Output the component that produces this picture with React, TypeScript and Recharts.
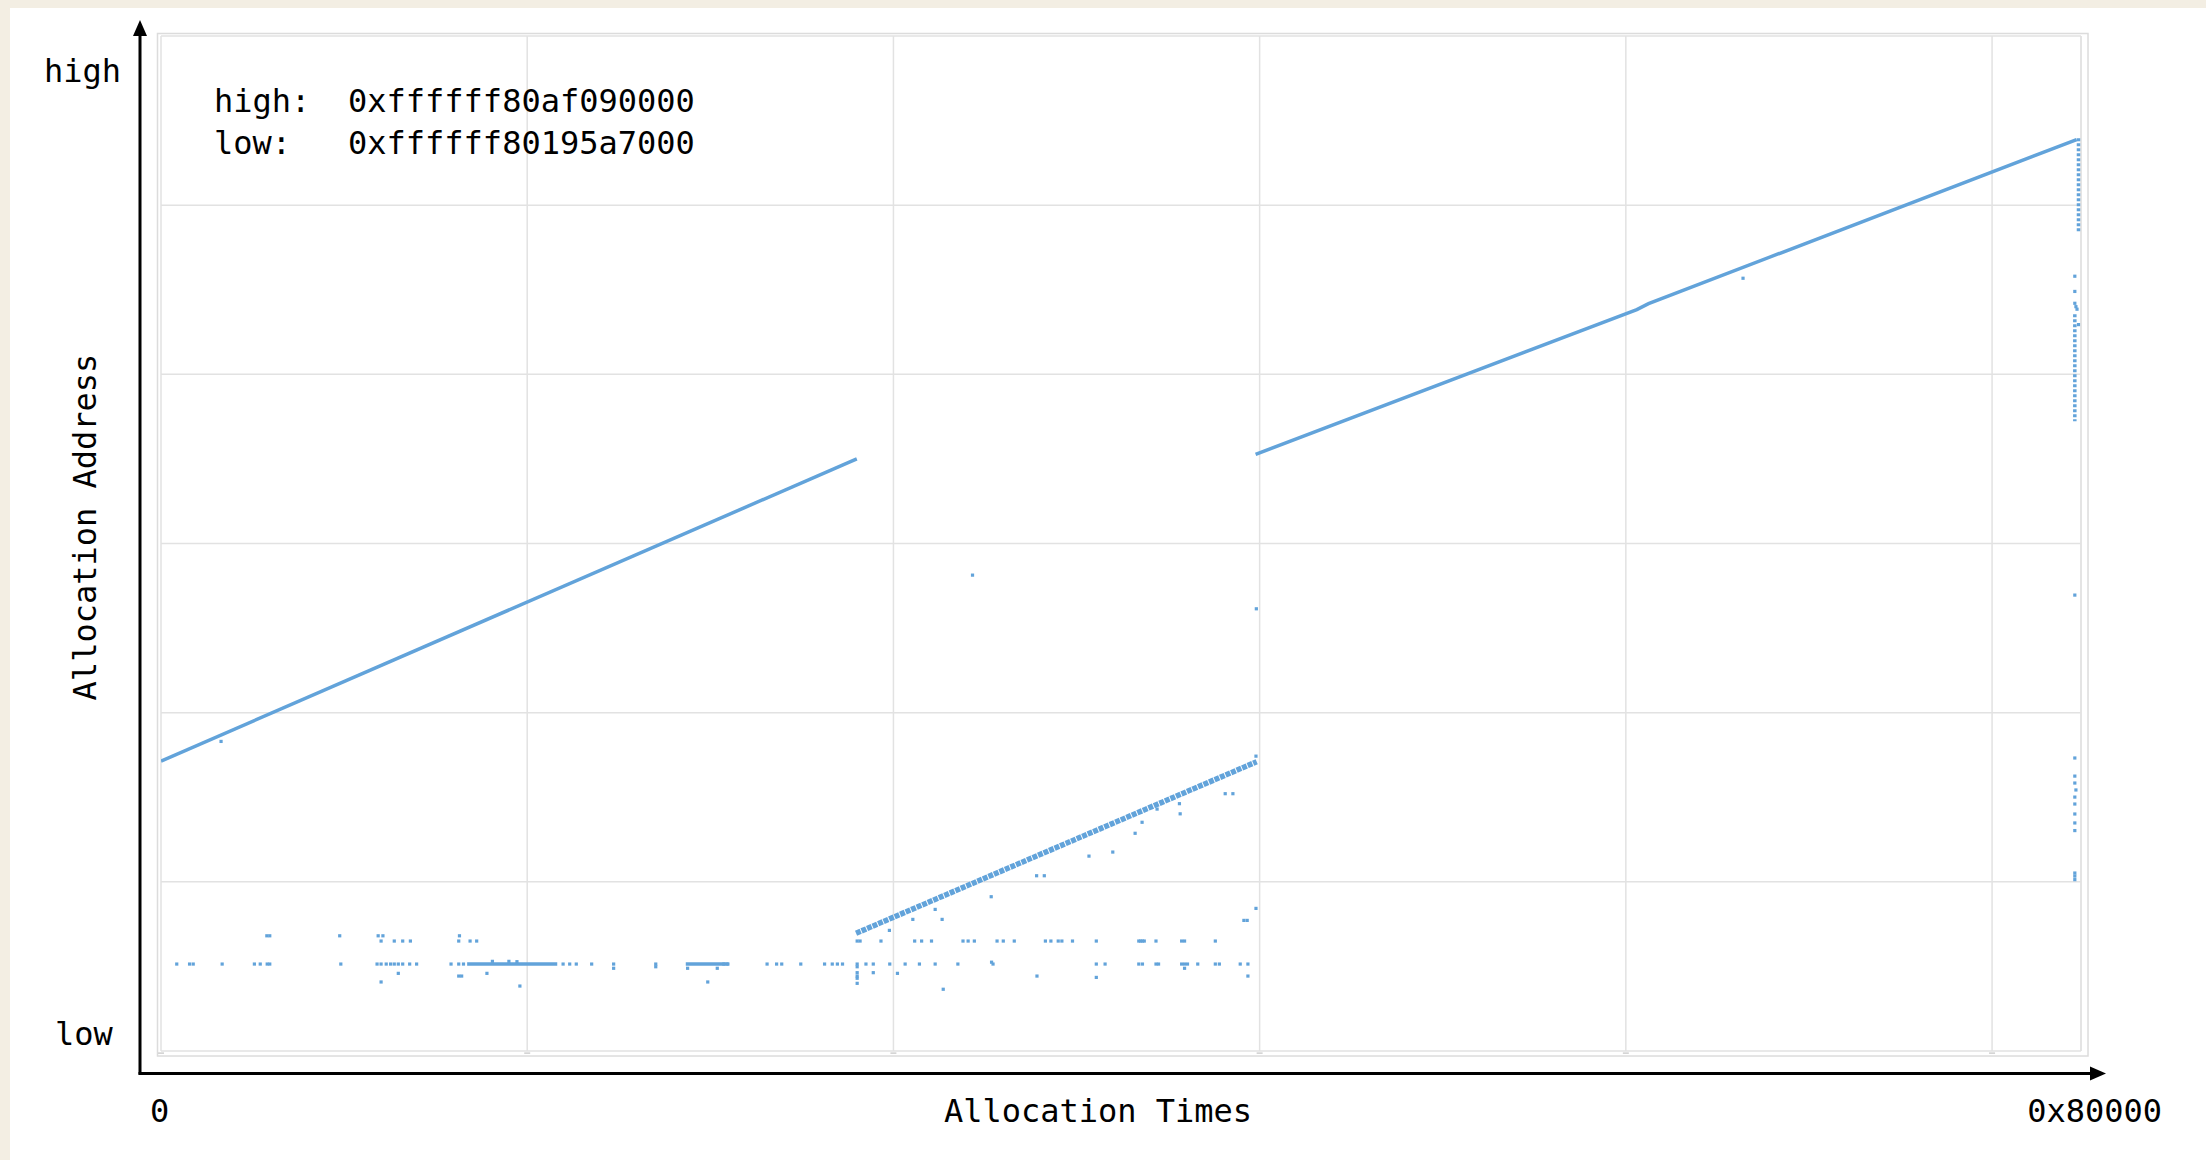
import React from 'react'
import {
  CartesianGrid,
  ComposedChart,
  Line,
  ReferenceLine,
  Scatter,
  XAxis,
  YAxis,
} from 'recharts'

// x = allocation count in thousands (0 .. 0x80000), y = address in grid rows (0 = low)
const X_MAX = 524.288
const X_TICKS = [0, 100, 200, 300, 400, 500]
const Y_TICKS = [0, 1, 2, 3, 4, 5, 6]

const BLUE = '#62a3da'
const MONO = '"DejaVu Sans Mono", Menlo, monospace'

// the three long sequential runs
const RUN_A = [
  { x: 0, y: 1.714 },
  { x: 190.0, y: 3.5 },
]
const RUN_B = [
  { x: 189.8, y: 0.696 },
  { x: 299.2, y: 1.71 },
]
const RUN_C = [
  { x: 298.9, y: 3.527 },
  { x: 403.0, y: 4.383 },
  { x: 406.2, y: 4.418 },
  { x: 523.1, y: 5.388 },
]

// dense dotted stacks at the far right
const STACK_TOP = [
  { x: 523.6, y: 5.396 },
  { x: 523.6, y: 4.843 },
]
const STACK_MID = [
  { x: 522.6, y: 4.355 },
  { x: 522.6, y: 3.723 },
]

// solid stretches of the low band
const LOW_RUN_1 = [
  { x: 83.6, y: 0.514 },
  { x: 108.2, y: 0.514 },
]
const LOW_RUN_2 = [
  { x: 143.3, y: 0.514 },
  { x: 155.0, y: 0.514 },
]

// single allocations, grouped by the address level they sit on
const BAND_681 = [28.9, 29.7, 48.8, 59.3, 60.6, 81.5]
const BAND_650 = [
  60.1, 63.7, 66.0, 68.1, 81.3, 84.4, 86.2, 190.1, 190.9, 196.6, 205.8, 207.7,
  210.4, 219.0, 220.4, 222.1, 228.3, 230.0, 233.0, 241.5, 243.0, 245.0, 246.0,
  248.9, 255.4, 267.0, 267.5, 268.0, 268.5, 271.7, 278.7, 279.5, 287.9,
]
const BAND_514 = [
  4.3, 7.8, 8.8, 16.7, 25.5, 27.1, 29.0, 29.7, 49.1, 59.0, 60.1, 61.5, 62.7,
  63.7, 64.8, 66.0, 67.9, 69.8, 79.2, 81.3, 82.6, 109.8, 111.6, 113.4, 117.6,
  123.6, 135.1, 153.7, 154.8, 165.5, 168.1, 169.5, 174.7, 181.2, 183.3, 184.7,
  186.1, 190.1, 192.5, 194.5, 199.0, 203.2, 207.1, 211.4, 217.6, 227.2, 255.4,
  257.8, 267.0, 268.0, 271.7, 272.4, 278.7, 279.5, 280.3, 283.1, 287.9, 289.0,
  294.7, 296.8,
]
const LOW_STRAYS = [
  { x: 123.6, y: 0.489 }, { x: 135.1, y: 0.498 }, { x: 143.8, y: 0.489 },
  { x: 151.9, y: 0.489 }, { x: 64.8, y: 0.459 }, { x: 89.0, y: 0.459 },
  { x: 81.3, y: 0.443 }, { x: 82.1, y: 0.443 }, { x: 60.1, y: 0.408 },
  { x: 149.3, y: 0.408 }, { x: 98.0, y: 0.384 }, { x: 190.1, y: 0.498 },
  { x: 190.1, y: 0.463 }, { x: 190.1, y: 0.443 }, { x: 190.1, y: 0.43 },
  { x: 190.1, y: 0.4 }, { x: 279.5, y: 0.489 }, { x: 194.5, y: 0.463 },
  { x: 201.1, y: 0.459 }, { x: 213.6, y: 0.365 }, { x: 239.2, y: 0.443 },
  { x: 255.4, y: 0.435 }, { x: 296.8, y: 0.443 }, { x: 226.8, y: 0.525 },
  { x: 90.5, y: 0.53 }, { x: 95.0, y: 0.53 }, { x: 97.2, y: 0.528 },
]
const RUN_B_STRAYS = [
  { x: 198.9, y: 0.713 }, { x: 205.3, y: 0.778 }, { x: 211.4, y: 0.837 },
  { x: 213.3, y: 0.778 }, { x: 226.7, y: 0.912 }, { x: 239.1, y: 1.036 },
  { x: 241.2, y: 1.036 }, { x: 253.4, y: 1.152 }, { x: 259.9, y: 1.176 },
  { x: 266.0, y: 1.287 }, { x: 267.9, y: 1.352 }, { x: 272.0, y: 1.43 },
  { x: 278.1, y: 1.462 }, { x: 278.3, y: 1.402 }, { x: 290.6, y: 1.521 },
  { x: 292.7, y: 1.521 }, { x: 299.0, y: 1.743 }, { x: 299.0, y: 0.843 },
  { x: 296.6, y: 0.772 }, { x: 295.7, y: 0.772 },
]
const LONE_DOTS = [
  { x: 16.4, y: 1.83 },
  { x: 221.6, y: 2.813 },
  { x: 299.1, y: 2.614 },
  { x: 432.0, y: 4.568 },
]
const COLUMN_DOTS = [
  { x: 522.6, y: 4.58 }, { x: 522.6, y: 4.49 }, { x: 522.6, y: 4.42 },
  { x: 522.9, y: 4.4 }, { x: 523.2, y: 4.385 }, { x: 523.6, y: 4.294 },
  { x: 522.6, y: 2.695 }, { x: 522.6, y: 1.732 }, { x: 522.6, y: 1.625 },
  { x: 522.6, y: 1.584 }, { x: 522.9, y: 1.543 }, { x: 522.6, y: 1.501 },
  { x: 522.6, y: 1.46 }, { x: 522.6, y: 1.401 }, { x: 522.6, y: 1.348 },
  { x: 522.6, y: 1.303 }, { x: 522.6, y: 1.052 }, { x: 522.6, y: 1.034 },
  { x: 522.6, y: 1.013 },
]

const DOTS = [
  ...BAND_681.map((x) => ({ x, y: 0.681 })),
  ...BAND_650.map((x) => ({ x, y: 0.65 })),
  ...BAND_514.map((x) => ({ x, y: 0.514 })),
  ...LOW_STRAYS,
  ...RUN_B_STRAYS,
  ...LONE_DOTS,
  ...COLUMN_DOTS,
]

const W = 2206
const H = 1160
// plot box in page pixels
const PLOT = { left: 161, top: 36, right: 2081, bottom: 1051 }

function Dot(p: any) {
  return <rect x={p.cx - 1.6} y={p.cy - 1.6} width={3.2} height={3.2} fill={BLUE} />
}

function TinyTick(p: any) {
  return <rect x={p.x - 3} y={p.y + 1.5} width={6} height={1.2} fill="#c4c4c4" />
}

function Overlay() {
  const t = { fontFamily: MONO, fontSize: 32, fill: '#000' }
  return (
    <svg
      width={W}
      height={H}
      style={{ position: 'absolute', left: 0, top: 0, pointerEvents: 'none' }}
    >
      {/* frame around the plot */}
      <rect x={157.5} y={33.5} width={2088 - 157.5} height={1056 - 33.5} fill="none" stroke="#dcdcdc" strokeWidth={1.5} />
      {/* hand-drawn style axes */}
      <line x1={140} y1={1074.5} x2={140} y2={34} stroke="#000" strokeWidth={3} />
      <polygon points="140,20 133,36 147,36" fill="#000" />
      <line x1={138.5} y1={1073.5} x2={2092} y2={1073.5} stroke="#000" strokeWidth={3} />
      <polygon points="2106,1073.5 2090,1066.5 2090,1080.5" fill="#000" />

      <text x={44} y={82} {...t}>high</text>
      <text x={55} y={1045} {...t}>low</text>
      <text x={150} y={1122} {...t}>0</text>
      <text x={1098} y={1122} textAnchor="middle" {...t}>Allocation Times</text>
      <text x={2162} y={1122} textAnchor="end" {...t}>0x80000</text>
      <text x={96} y={527} textAnchor="middle" transform="rotate(-90 96 527)" {...t}>
        Allocation Address
      </text>

      <text x={214} y={112} {...t}>high:</text>
      <text x={348} y={112} {...t}>0xffffff80af090000</text>
      <text x={214} y={154} {...t}>low:</text>
      <text x={348} y={154} {...t}>0xffffff80195a7000</text>
    </svg>
  )
}

export default function App() {
  return (
    <div style={{ position: 'fixed', left: 0, top: 0, width: W, height: H, background: '#f3eee3', overflow: 'hidden' }}>
      <div style={{ position: 'absolute', left: 10, top: 8, right: 0, bottom: 0, background: '#fff' }} />
      <div style={{ position: 'absolute', left: 0, top: 0 }}>
        <ComposedChart
          width={W}
          height={H}
          margin={{ top: PLOT.top, left: PLOT.left, right: W - PLOT.right, bottom: H - PLOT.bottom - 6 }}
        >
          <CartesianGrid stroke="#e2e2e2" strokeWidth={1.5} />
          <XAxis
            dataKey="x"
            type="number"
            domain={[0, X_MAX]}
            ticks={X_TICKS}
            allowDataOverflow
            axisLine={false}
            tickLine={false}
            tickSize={0}
            tickMargin={0}
            height={6}
            tick={<TinyTick />}
          />
          <YAxis dataKey="y" type="number" domain={[0, 6]} ticks={Y_TICKS} hide width={0} />
          <ReferenceLine x={X_MAX} stroke="#e2e2e2" strokeWidth={1.5} />
          <Line data={RUN_A} dataKey="y" stroke={BLUE} strokeWidth={3.5} dot={false} activeDot={false} isAnimationActive={false} />
          <Line data={RUN_B} dataKey="y" stroke={BLUE} strokeWidth={5.5} strokeDasharray="5 1" dot={false} activeDot={false} isAnimationActive={false} />
          <Line data={RUN_C} dataKey="y" stroke={BLUE} strokeWidth={3.5} dot={false} activeDot={false} isAnimationActive={false} />
          <Line data={STACK_TOP} dataKey="y" stroke={BLUE} strokeWidth={3.5} strokeDasharray="3 2" dot={false} activeDot={false} isAnimationActive={false} />
          <Line data={STACK_MID} dataKey="y" stroke={BLUE} strokeWidth={3.5} strokeDasharray="3 2" dot={false} activeDot={false} isAnimationActive={false} />
          <Line data={LOW_RUN_1} dataKey="y" stroke={BLUE} strokeWidth={3.5} dot={false} activeDot={false} isAnimationActive={false} />
          <Line data={LOW_RUN_2} dataKey="y" stroke={BLUE} strokeWidth={3.5} dot={false} activeDot={false} isAnimationActive={false} />
          <Scatter data={DOTS} dataKey="y" shape={<Dot />} isAnimationActive={false} />
        </ComposedChart>
      </div>
      <Overlay />
    </div>
  )
}
